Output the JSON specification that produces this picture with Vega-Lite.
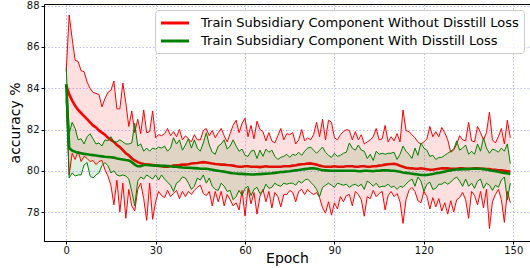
{
  "$schema": "https://vega.github.io/schema/vega-lite/v6.json",
  "width": 486,
  "height": 237,
  "autosize": {"type": "none"},
  "padding": {"left": 44, "top": 4, "right": 0, "bottom": 27},
  "background": "white",
  "config": {
    "font": "DejaVu Sans",
    "view": {"stroke": "black", "strokeWidth": 1},
    "axis": {
      "domainColor": "black",
      "domainWidth": 1,
      "tickColor": "black",
      "tickSize": 3,
      "labelFontSize": 10,
      "labelColor": "#111111",
      "titleFontSize": 14,
      "titleFontWeight": "normal",
      "titleColor": "black",
      "gridColor": "#4444ff",
      "gridOpacity": 0.45,
      "gridDash": [1.5, 2],
      "gridWidth": 0.8
    },
    "legend": {
      "orient": "none",
      "legendX": 111,
      "legendY": 6,
      "fillColor": "rgba(255,255,255,0.85)",
      "strokeColor": "#cccccc",
      "cornerRadius": 3,
      "padding": 5,
      "symbolType": "M-2.15,0H2.15",
      "symbolStrokeWidth": 3,
      "symbolSize": 169,
      "symbolOffset": 7,
      "labelFontSize": 13,
      "labelColor": "black",
      "labelOffset": 18,
      "labelLimit": 400,
      "rowPadding": 3
    }
  },
  "data": {
    "values": [
      {"epoch":0,"rm":84.15,"rl":83.5,"ru":84.8,"gm":84.2,"gl":83.4,"gu":85.0},
      {"epoch":1,"rm":83.7,"rl":79.8,"ru":87.55,"gm":81.1,"gl":79.65,"gu":81.8},
      {"epoch":2,"rm":83.4,"rl":80.85,"ru":86.4,"gm":80.98,"gl":79.9,"gu":82.35},
      {"epoch":3,"rm":83.15,"rl":80.55,"ru":85.35,"gm":80.92,"gl":79.75,"gu":82.05},
      {"epoch":4,"rm":82.95,"rl":80.95,"ru":85.3,"gm":80.88,"gl":79.8,"gu":81.5},
      {"epoch":5,"rm":82.8,"rl":80.45,"ru":84.85,"gm":80.85,"gl":79.8,"gu":81.55},
      {"epoch":6,"rm":82.65,"rl":80.7,"ru":84.8,"gm":80.82,"gl":80.28,"gu":81.3},
      {"epoch":7,"rm":82.5,"rl":80.6,"ru":84.3,"gm":80.8,"gl":80.4,"gu":81.65},
      {"epoch":8,"rm":82.35,"rl":80.45,"ru":84.0,"gm":80.78,"gl":79.75,"gu":81.8},
      {"epoch":9,"rm":82.2,"rl":80.5,"ru":83.8,"gm":80.76,"gl":79.65,"gu":81.55},
      {"epoch":10,"rm":82.1,"rl":80.3,"ru":83.75,"gm":80.74,"gl":79.8,"gu":81.3},
      {"epoch":11,"rm":81.95,"rl":80.45,"ru":83.7,"gm":80.72,"gl":79.9,"gu":81.35},
      {"epoch":12,"rm":81.85,"rl":80.5,"ru":83.1,"gm":80.7,"gl":80.25,"gu":81.2},
      {"epoch":13,"rm":81.75,"rl":80.05,"ru":83.5,"gm":80.68,"gl":80.4,"gu":81.5},
      {"epoch":14,"rm":81.6,"rl":79.75,"ru":83.8,"gm":80.67,"gl":80.25,"gu":81.45},
      {"epoch":15,"rm":81.5,"rl":79.3,"ru":83.9,"gm":80.66,"gl":79.9,"gu":81.65},
      {"epoch":16,"rm":81.4,"rl":78.35,"ru":84.35,"gm":80.64,"gl":80.0,"gu":81.4},
      {"epoch":17,"rm":81.25,"rl":79.55,"ru":83.0,"gm":80.6,"gl":79.8,"gu":81.4},
      {"epoch":18,"rm":81.15,"rl":78.0,"ru":83.0,"gm":80.57,"gl":79.75,"gu":81.5},
      {"epoch":19,"rm":81.0,"rl":79.4,"ru":84.25,"gm":80.55,"gl":79.8,"gu":81.4},
      {"epoch":20,"rm":80.85,"rl":77.7,"ru":83.3,"gm":80.52,"gl":79.75,"gu":81.3},
      {"epoch":21,"rm":80.75,"rl":79.1,"ru":82.15,"gm":80.5,"gl":79.6,"gu":81.3},
      {"epoch":22,"rm":80.6,"rl":78.3,"ru":82.9,"gm":80.42,"gl":79.0,"gu":81.35},
      {"epoch":23,"rm":80.5,"rl":78.05,"ru":81.85,"gm":80.3,"gl":78.3,"gu":82.3},
      {"epoch":24,"rm":80.42,"rl":79.1,"ru":82.5,"gm":80.22,"gl":79.5,"gu":81.2},
      {"epoch":25,"rm":80.37,"rl":79.4,"ru":81.8,"gm":80.22,"gl":79.7,"gu":81.3},
      {"epoch":26,"rm":80.33,"rl":78.65,"ru":82.95,"gm":80.28,"gl":79.6,"gu":80.95},
      {"epoch":27,"rm":80.3,"rl":77.6,"ru":81.85,"gm":80.28,"gl":79.8,"gu":81.1},
      {"epoch":28,"rm":80.3,"rl":79.4,"ru":81.9,"gm":80.27,"gl":79.7,"gu":80.95},
      {"epoch":29,"rm":80.28,"rl":77.65,"ru":82.9,"gm":80.26,"gl":79.6,"gu":81.1},
      {"epoch":30,"rm":80.25,"rl":78.5,"ru":81.6,"gm":80.25,"gl":79.8,"gu":81.05},
      {"epoch":31,"rm":80.24,"rl":79.0,"ru":81.75,"gm":80.25,"gl":79.55,"gu":81.15},
      {"epoch":32,"rm":80.22,"rl":78.8,"ru":81.7,"gm":80.24,"gl":79.8,"gu":81.1},
      {"epoch":33,"rm":80.2,"rl":78.7,"ru":81.8,"gm":80.24,"gl":79.6,"gu":81.2},
      {"epoch":34,"rm":80.2,"rl":79.05,"ru":82.05,"gm":80.23,"gl":79.45,"gu":80.95},
      {"epoch":35,"rm":80.22,"rl":78.75,"ru":81.7,"gm":80.22,"gl":79.3,"gu":81.1},
      {"epoch":36,"rm":80.25,"rl":78.9,"ru":81.9,"gm":80.2,"gl":79.0,"gu":81.6},
      {"epoch":37,"rm":80.27,"rl":79.05,"ru":81.65,"gm":80.2,"gl":79.4,"gu":81.3},
      {"epoch":38,"rm":80.28,"rl":78.65,"ru":82.0,"gm":80.18,"gl":79.5,"gu":81.5},
      {"epoch":39,"rm":80.3,"rl":79.0,"ru":81.5,"gm":80.16,"gl":79.7,"gu":81.0},
      {"epoch":40,"rm":80.3,"rl":78.75,"ru":81.7,"gm":80.15,"gl":79.65,"gu":81.25},
      {"epoch":41,"rm":80.32,"rl":79.0,"ru":81.55,"gm":80.15,"gl":79.4,"gu":81.55},
      {"epoch":42,"rm":80.35,"rl":78.85,"ru":81.4,"gm":80.14,"gl":79.1,"gu":81.1},
      {"epoch":43,"rm":80.37,"rl":79.05,"ru":81.75,"gm":80.13,"gl":79.25,"gu":81.5},
      {"epoch":44,"rm":80.38,"rl":79.2,"ru":81.5,"gm":80.12,"gl":79.65,"gu":81.1},
      {"epoch":45,"rm":80.4,"rl":79.3,"ru":81.5,"gm":80.1,"gl":79.55,"gu":80.95},
      {"epoch":46,"rm":80.42,"rl":78.9,"ru":81.95,"gm":80.1,"gl":79.8,"gu":81.35},
      {"epoch":47,"rm":80.4,"rl":78.8,"ru":82.05,"gm":80.1,"gl":79.4,"gu":81.85},
      {"epoch":48,"rm":80.38,"rl":79.0,"ru":81.7,"gm":80.08,"gl":79.65,"gu":81.25},
      {"epoch":49,"rm":80.35,"rl":78.3,"ru":81.95,"gm":80.05,"gl":79.25,"gu":80.9},
      {"epoch":50,"rm":80.33,"rl":79.0,"ru":81.6,"gm":80.02,"gl":79.1,"gu":80.8},
      {"epoch":51,"rm":80.32,"rl":78.5,"ru":81.85,"gm":80.0,"gl":79.05,"gu":81.2},
      {"epoch":52,"rm":80.3,"rl":79.0,"ru":82.05,"gm":79.98,"gl":79.4,"gu":81.3},
      {"epoch":53,"rm":80.3,"rl":78.3,"ru":81.7,"gm":79.96,"gl":79.25,"gu":81.5},
      {"epoch":54,"rm":80.28,"rl":78.85,"ru":81.4,"gm":79.93,"gl":79.0,"gu":81.05},
      {"epoch":55,"rm":80.27,"rl":78.6,"ru":81.8,"gm":79.9,"gl":79.05,"gu":81.2},
      {"epoch":56,"rm":80.25,"rl":78.3,"ru":82.2,"gm":79.88,"gl":78.6,"gu":81.5},
      {"epoch":57,"rm":80.22,"rl":78.45,"ru":82.45,"gm":79.87,"gl":78.75,"gu":81.2},
      {"epoch":58,"rm":80.2,"rl":78.1,"ru":81.85,"gm":79.85,"gl":79.05,"gu":80.95},
      {"epoch":59,"rm":80.2,"rl":79.05,"ru":82.3,"gm":79.85,"gl":78.8,"gu":81.05},
      {"epoch":60,"rm":80.22,"rl":77.8,"ru":82.55,"gm":79.84,"gl":79.15,"gu":80.75},
      {"epoch":61,"rm":80.22,"rl":79.15,"ru":81.65,"gm":79.83,"gl":79.25,"gu":80.7},
      {"epoch":62,"rm":80.2,"rl":78.4,"ru":82.2,"gm":79.82,"gl":78.8,"gu":80.95},
      {"epoch":63,"rm":80.2,"rl":78.95,"ru":81.55,"gm":79.82,"gl":79.1,"gu":81.0},
      {"epoch":64,"rm":80.2,"rl":77.9,"ru":82.4,"gm":79.83,"gl":79.2,"gu":80.6},
      {"epoch":65,"rm":80.18,"rl":78.75,"ru":82.0,"gm":79.84,"gl":78.9,"gu":81.0},
      {"epoch":66,"rm":80.2,"rl":79.1,"ru":81.9,"gm":79.85,"gl":79.0,"gu":80.7},
      {"epoch":67,"rm":80.22,"rl":78.5,"ru":81.45,"gm":79.86,"gl":79.35,"gu":81.05},
      {"epoch":68,"rm":80.2,"rl":79.0,"ru":81.85,"gm":79.87,"gl":79.15,"gu":80.9},
      {"epoch":69,"rm":80.2,"rl":78.2,"ru":81.45,"gm":79.88,"gl":79.2,"gu":81.0},
      {"epoch":70,"rm":80.2,"rl":78.95,"ru":81.35,"gm":79.9,"gl":79.4,"gu":80.7},
      {"epoch":71,"rm":80.2,"rl":78.75,"ru":81.7,"gm":79.92,"gl":79.3,"gu":80.55},
      {"epoch":72,"rm":80.2,"rl":78.25,"ru":82.05,"gm":79.94,"gl":79.25,"gu":80.65},
      {"epoch":73,"rm":80.22,"rl":78.85,"ru":81.5,"gm":79.95,"gl":79.4,"gu":80.7},
      {"epoch":74,"rm":80.22,"rl":78.85,"ru":81.8,"gm":79.97,"gl":79.35,"gu":80.8},
      {"epoch":75,"rm":80.22,"rl":79.05,"ru":81.75,"gm":79.98,"gl":79.4,"gu":80.65},
      {"epoch":76,"rm":80.25,"rl":78.95,"ru":81.85,"gm":80.0,"gl":79.4,"gu":80.8},
      {"epoch":77,"rm":80.27,"rl":78.5,"ru":81.3,"gm":80.02,"gl":79.3,"gu":80.75},
      {"epoch":78,"rm":80.3,"rl":79.0,"ru":81.5,"gm":80.04,"gl":79.5,"gu":80.9},
      {"epoch":79,"rm":80.32,"rl":79.1,"ru":82.0,"gm":80.06,"gl":79.4,"gu":80.75},
      {"epoch":80,"rm":80.33,"rl":78.85,"ru":81.45,"gm":80.08,"gl":79.55,"gu":80.95},
      {"epoch":81,"rm":80.35,"rl":79.1,"ru":81.6,"gm":80.1,"gl":79.6,"gu":81.1},
      {"epoch":82,"rm":80.36,"rl":78.95,"ru":81.5,"gm":80.12,"gl":79.45,"gu":81.15},
      {"epoch":83,"rm":80.33,"rl":78.85,"ru":81.75,"gm":80.12,"gl":79.3,"gu":81.0},
      {"epoch":84,"rm":80.3,"rl":78.95,"ru":82.35,"gm":80.1,"gl":79.1,"gu":80.85},
      {"epoch":85,"rm":80.25,"rl":78.7,"ru":81.65,"gm":80.06,"gl":78.75,"gu":81.0},
      {"epoch":86,"rm":80.22,"rl":78.2,"ru":82.5,"gm":80.03,"gl":79.2,"gu":81.15},
      {"epoch":87,"rm":80.2,"rl":77.95,"ru":81.5,"gm":80.02,"gl":79.3,"gu":80.9},
      {"epoch":88,"rm":80.2,"rl":78.5,"ru":82.45,"gm":80.01,"gl":79.4,"gu":80.75},
      {"epoch":89,"rm":80.2,"rl":77.85,"ru":82.35,"gm":80.0,"gl":79.3,"gu":80.65},
      {"epoch":90,"rm":80.22,"rl":78.45,"ru":81.6,"gm":80.0,"gl":79.2,"gu":80.85},
      {"epoch":91,"rm":80.2,"rl":78.15,"ru":81.5,"gm":80.0,"gl":79.4,"gu":80.7},
      {"epoch":92,"rm":80.2,"rl":78.75,"ru":81.75,"gm":80.0,"gl":79.35,"gu":80.75},
      {"epoch":93,"rm":80.2,"rl":78.5,"ru":81.9,"gm":80.0,"gl":79.3,"gu":80.85},
      {"epoch":94,"rm":80.22,"rl":78.8,"ru":82.0,"gm":80.0,"gl":79.35,"gu":80.9},
      {"epoch":95,"rm":80.22,"rl":78.85,"ru":81.95,"gm":80.0,"gl":79.2,"gu":81.35},
      {"epoch":96,"rm":80.22,"rl":78.3,"ru":81.5,"gm":80.0,"gl":79.3,"gu":81.1},
      {"epoch":97,"rm":80.2,"rl":79.0,"ru":81.9,"gm":80.0,"gl":79.35,"gu":81.0},
      {"epoch":98,"rm":80.2,"rl":78.85,"ru":81.5,"gm":79.98,"gl":79.25,"gu":81.25},
      {"epoch":99,"rm":80.22,"rl":78.6,"ru":81.75,"gm":79.98,"gl":79.35,"gu":81.0},
      {"epoch":100,"rm":80.22,"rl":77.8,"ru":81.3,"gm":80.0,"gl":79.1,"gu":80.95},
      {"epoch":101,"rm":80.2,"rl":78.75,"ru":81.4,"gm":80.0,"gl":79.5,"gu":80.6},
      {"epoch":102,"rm":80.2,"rl":78.65,"ru":81.5,"gm":79.99,"gl":79.4,"gu":80.8},
      {"epoch":103,"rm":80.22,"rl":79.05,"ru":81.65,"gm":79.98,"gl":79.25,"gu":80.5},
      {"epoch":104,"rm":80.22,"rl":78.75,"ru":82.05,"gm":80.0,"gl":79.4,"gu":80.95},
      {"epoch":105,"rm":80.25,"rl":78.9,"ru":81.5,"gm":80.0,"gl":79.2,"gu":80.8},
      {"epoch":106,"rm":80.27,"rl":79.0,"ru":81.55,"gm":80.02,"gl":79.25,"gu":80.85},
      {"epoch":107,"rm":80.3,"rl":78.1,"ru":82.2,"gm":80.02,"gl":79.25,"gu":80.8},
      {"epoch":108,"rm":80.32,"rl":78.8,"ru":81.4,"gm":80.02,"gl":79.35,"gu":80.85},
      {"epoch":109,"rm":80.33,"rl":79.0,"ru":81.65,"gm":80.0,"gl":79.2,"gu":80.85},
      {"epoch":110,"rm":80.34,"rl":78.75,"ru":81.45,"gm":80.0,"gl":79.25,"gu":80.9},
      {"epoch":111,"rm":80.3,"rl":78.9,"ru":81.8,"gm":79.98,"gl":79.1,"gu":80.55},
      {"epoch":112,"rm":80.25,"rl":78.5,"ru":81.4,"gm":79.95,"gl":79.25,"gu":80.8},
      {"epoch":113,"rm":80.2,"rl":77.45,"ru":82.95,"gm":79.92,"gl":79.2,"gu":81.2},
      {"epoch":114,"rm":80.15,"rl":78.6,"ru":81.95,"gm":79.9,"gl":79.35,"gu":80.95},
      {"epoch":115,"rm":80.13,"rl":79.05,"ru":81.9,"gm":79.88,"gl":79.5,"gu":80.8},
      {"epoch":116,"rm":80.12,"rl":79.2,"ru":81.75,"gm":79.86,"gl":79.6,"gu":80.6},
      {"epoch":117,"rm":80.1,"rl":79.0,"ru":81.6,"gm":79.84,"gl":79.25,"gu":81.1},
      {"epoch":118,"rm":80.1,"rl":78.55,"ru":81.4,"gm":79.82,"gl":79.7,"gu":80.75},
      {"epoch":119,"rm":80.12,"rl":78.45,"ru":81.3,"gm":79.8,"gl":79.5,"gu":81.35},
      {"epoch":120,"rm":80.1,"rl":79.0,"ru":81.4,"gm":79.8,"gl":79.0,"gu":81.1},
      {"epoch":121,"rm":80.08,"rl":78.75,"ru":81.55,"gm":79.8,"gl":79.35,"gu":81.0},
      {"epoch":122,"rm":80.05,"rl":78.15,"ru":82.15,"gm":79.82,"gl":79.45,"gu":80.7},
      {"epoch":123,"rm":80.05,"rl":78.7,"ru":81.65,"gm":79.85,"gl":79.1,"gu":80.75},
      {"epoch":124,"rm":80.08,"rl":78.25,"ru":81.9,"gm":79.88,"gl":79.15,"gu":80.55},
      {"epoch":125,"rm":80.1,"rl":78.65,"ru":81.65,"gm":79.9,"gl":79.35,"gu":80.65},
      {"epoch":126,"rm":80.12,"rl":78.05,"ru":82.1,"gm":79.93,"gl":79.35,"gu":80.65},
      {"epoch":127,"rm":80.12,"rl":78.45,"ru":81.85,"gm":79.96,"gl":79.45,"gu":80.75},
      {"epoch":128,"rm":80.12,"rl":77.9,"ru":81.5,"gm":80.0,"gl":79.35,"gu":80.85},
      {"epoch":129,"rm":80.1,"rl":78.55,"ru":80.9,"gm":80.02,"gl":79.45,"gu":80.95},
      {"epoch":130,"rm":80.1,"rl":78.0,"ru":81.0,"gm":80.05,"gl":79.6,"gu":81.05},
      {"epoch":131,"rm":80.1,"rl":78.6,"ru":81.3,"gm":80.06,"gl":79.7,"gu":81.45},
      {"epoch":132,"rm":80.12,"rl":78.7,"ru":81.7,"gm":80.07,"gl":79.5,"gu":81.0},
      {"epoch":133,"rm":80.12,"rl":78.95,"ru":81.5,"gm":80.08,"gl":79.25,"gu":81.1},
      {"epoch":134,"rm":80.1,"rl":78.6,"ru":81.45,"gm":80.08,"gl":79.6,"gu":81.25},
      {"epoch":135,"rm":80.1,"rl":77.7,"ru":82.35,"gm":80.08,"gl":79.25,"gu":80.8},
      {"epoch":136,"rm":80.1,"rl":79.0,"ru":81.45,"gm":80.1,"gl":79.4,"gu":80.95},
      {"epoch":137,"rm":80.12,"rl":78.8,"ru":81.4,"gm":80.1,"gl":79.15,"gu":80.8},
      {"epoch":138,"rm":80.12,"rl":78.35,"ru":82.15,"gm":80.1,"gl":79.5,"gu":81.3},
      {"epoch":139,"rm":80.1,"rl":79.0,"ru":81.85,"gm":80.1,"gl":79.6,"gu":80.95},
      {"epoch":140,"rm":80.1,"rl":78.2,"ru":81.5,"gm":80.08,"gl":79.15,"gu":81.6},
      {"epoch":141,"rm":80.08,"rl":79.1,"ru":81.85,"gm":80.06,"gl":79.4,"gu":81.1},
      {"epoch":142,"rm":80.08,"rl":77.2,"ru":82.85,"gm":80.03,"gl":79.3,"gu":80.85},
      {"epoch":143,"rm":80.05,"rl":78.5,"ru":81.5,"gm":80.0,"gl":79.05,"gu":81.05},
      {"epoch":144,"rm":80.05,"rl":78.85,"ru":81.35,"gm":79.98,"gl":79.3,"gu":81.0},
      {"epoch":145,"rm":80.03,"rl":79.1,"ru":81.65,"gm":79.95,"gl":79.2,"gu":80.9},
      {"epoch":146,"rm":80.02,"rl":78.6,"ru":82.05,"gm":79.92,"gl":79.55,"gu":81.1},
      {"epoch":147,"rm":80.0,"rl":77.5,"ru":81.3,"gm":79.9,"gl":79.7,"gu":80.95},
      {"epoch":148,"rm":79.98,"rl":79.0,"ru":82.45,"gm":79.88,"gl":78.6,"gu":81.3},
      {"epoch":149,"rm":79.97,"rl":78.45,"ru":81.6,"gm":79.85,"gl":79.4,"gu":80.35}
    ]
  },
  "encoding": {
    "x": {
      "field": "epoch",
      "type": "quantitative",
      "scale": {"domain": [-7.45, 155.6], "nice": false, "zero": false},
      "axis": {"values": [0, 30, 60, 90, 120, 150], "title": "Epoch", "titlePadding": -4, "labelPadding": 1}
    }
  },
  "layer": [
    {
      "mark": {"type": "area", "color": "#ff0000", "opacity": 0.12},
      "encoding": {
        "y": {
          "field": "rl",
          "type": "quantitative",
          "scale": {"domain": [76.6, 88.08], "nice": false, "zero": false},
          "axis": {"values": [78, 80, 82, 84, 86, 88], "format": "d", "title": "accuracy %", "titlePadding": 4, "labelPadding": 2}
        },
        "y2": {"field": "ru"}
      }
    },
    {
      "mark": {"type": "line", "color": "#ff0000", "strokeWidth": 1},
      "encoding": {"y": {"field": "rl", "type": "quantitative", "axis": {"values": [78, 80, 82, 84, 86, 88], "format": "d", "title": "accuracy %", "titlePadding": 4, "labelPadding": 2}}}
    },
    {
      "mark": {"type": "line", "color": "#ff0000", "strokeWidth": 1},
      "encoding": {"y": {"field": "ru", "type": "quantitative", "axis": {"values": [78, 80, 82, 84, 86, 88], "format": "d", "title": "accuracy %", "titlePadding": 4, "labelPadding": 2}}}
    },
    {
      "mark": {"type": "line", "strokeWidth": 2.6},
      "encoding": {
        "y": {"field": "rm", "type": "quantitative", "axis": {"values": [78, 80, 82, 84, 86, 88], "format": "d", "title": "accuracy %", "titlePadding": 4, "labelPadding": 2}},
        "color": {
          "datum": "Train Subsidiary Component Without Disstill Loss",
          "type": "nominal",
          "scale": {
            "domain": ["Train Subsidiary Component Without Disstill Loss", "Train Subsidiary Component With Disstill Loss"],
            "range": ["#ff0000", "#008000"]
          },
          "legend": {"title": null}
        }
      }
    },
    {
      "mark": {"type": "area", "color": "#008000", "opacity": 0.12},
      "encoding": {
        "y": {"field": "gl", "type": "quantitative", "axis": {"values": [78, 80, 82, 84, 86, 88], "format": "d", "title": "accuracy %", "titlePadding": 4, "labelPadding": 2}},
        "y2": {"field": "gu"}
      }
    },
    {
      "mark": {"type": "line", "color": "#008000", "strokeWidth": 1},
      "encoding": {"y": {"field": "gl", "type": "quantitative", "axis": {"values": [78, 80, 82, 84, 86, 88], "format": "d", "title": "accuracy %", "titlePadding": 4, "labelPadding": 2}}}
    },
    {
      "mark": {"type": "line", "color": "#008000", "strokeWidth": 1},
      "encoding": {"y": {"field": "gu", "type": "quantitative", "axis": {"values": [78, 80, 82, 84, 86, 88], "format": "d", "title": "accuracy %", "titlePadding": 4, "labelPadding": 2}}}
    },
    {
      "mark": {"type": "line", "strokeWidth": 2.6},
      "encoding": {
        "y": {"field": "gm", "type": "quantitative", "axis": {"values": [78, 80, 82, 84, 86, 88], "format": "d", "title": "accuracy %", "titlePadding": 4, "labelPadding": 2}},
        "color": {"datum": "Train Subsidiary Component With Disstill Loss", "type": "nominal", "legend": {"title": null}}
      }
    }
  ]
}
